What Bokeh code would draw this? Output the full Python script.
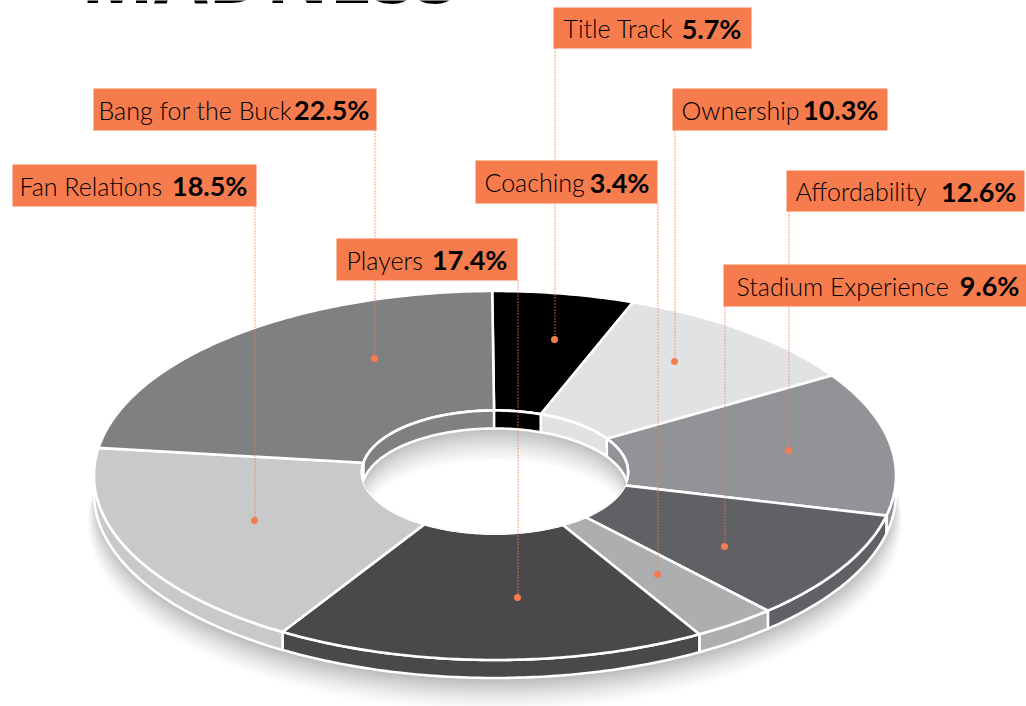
import numpy as np
from bokeh.plotting import figure
from bokeh.embed import file_html
from bokeh.resources import INLINE
from bokeh.core.properties import value

# ---- data
categories = ["Title Track", "Ownership", "Affordability", "Stadium Experience",
              "Coaching", "Players", "Fan Relations", "Bang for the Buck"]
shares = [5.7, 10.3, 12.6, 9.6, 3.4, 17.4, 18.5, 22.5]
colors = ["#000000", "#e1e2e4", "#929396", "#606165",
          "#adaeb0", "#49494b", "#c8c9cb", "#7f8082"]
headline = "MADNESS"

# ---- annotation layout
box_left = [553, 672, 786, 723, 475, 336, 12, 93]
box_right = [751, 887, 1024, 1026, 657, 517, 256, 376]
box_top = [7, 88, 170, 264, 160, 238, 164, 88]
box_bottom = [48, 130, 211, 306, 203, 280, 206, 130]
text_left = [563, 681, 795, 736, 484, 346, 19, 98]
bold_right = [741, 878, 1016, 1019, 649, 507, 247, 369]
dot_x = [554, 674, 788, 724, 657, 517, 254, 374]
dot_y = [339, 361, 450, 546, 574, 597, 520, 358]

# ---- geometry of the projected ring
CX, CY, RX, RY = 494.5, 475, 401, 184.5
IRX, IRY, ICY = 133, 61.5, 471.5
DEPTH, IDEPTH = 18, 18
ROT = -0.4
ORANGE = "#f67c4e"
WHITE_W = 2.6
FONT = "Lato Light"


def arc(rx, ry, cy, a0, a1, n=None):
    n = n or max(2, int(abs(a1 - a0) * 1.5))
    t = np.radians(np.linspace(a0, a1, n))
    return CX + rx * np.sin(t), cy - ry * np.cos(t)


p = figure(width=1026, height=706, x_range=(0, 1026), y_range=(706, 0),
           min_border=0, toolbar_location=None, output_backend="svg",
           outline_line_color=None, background_fill_color="white",
           margin=(0, 0, 0, 0))
p.axis.visible = False
p.grid.visible = False

# drop shadow: stack of ellipses, outer (white) to inner (grey)
steps = 36
for i in range(steps):
    f = i / (steps - 1)               # 0 outer .. 1 inner
    sx, sy = arc(408 - 10 * f, 187 - 4 * f, 526 - 30 * f, 0, 360, 240)
    g = 1 - f ** 1.4
    col = tuple(int(round(c + (255 - c) * g)) for c in (186, 188, 188))
    p.patch(sx, sy, fill_color="#%02x%02x%02x" % col, line_color=None)

edges = np.concatenate([[0], np.cumsum(shares)]) * 3.6 + ROT
edges[-1] = 360 + ROT

# outer side wall
for i, c in enumerate(colors):
    a0, a1 = max(edges[i], 90), min(edges[i + 1], 270)
    if a1 <= a0:
        continue
    x0, y0 = arc(RX, RY, CY, a0, a1)
    x1, y1 = arc(RX, RY, CY + DEPTH, a1, a0)
    p.patch(np.r_[x0, x1], np.r_[y0, y1], fill_color=c,
            line_color="white", line_width=WHITE_W, line_join="round")

# top faces
for i, c in enumerate(colors):
    x0, y0 = arc(RX, RY, CY, edges[i], edges[i + 1])
    x1, y1 = arc(IRX, IRY, ICY, edges[i + 1], edges[i])
    p.patch(np.r_[x0, x1], np.r_[y0, y1], fill_color=c,
            line_color="white", line_width=WHITE_W, line_join="round")

# hole
hx, hy = arc(IRX, IRY, ICY, 0, 360, 240)
p.patch(hx, hy, fill_color="white", line_color="white", line_width=WHITE_W)

# inner wall: the far part, up to where the hole's rim meets its sunken copy
meet = np.degrees(np.arccos(IDEPTH / 2 / IRY))       # lower-arc limit
wall_edges = np.r_[edges[0], edges[1:]]
for i, c in enumerate(colors):
    spans = [(edges[i], edges[i + 1])]
    if edges[i] < 0:                                  # wedge crossing the top
        spans = [(edges[i] + 360, 360), (0, edges[i + 1])]
    for e0, e1 in spans:
        for lo_upper, hi_upper, lo_lower, hi_lower in (
                (0, 180 - meet, 0, meet),
                (180 + meet, 360, 360 - meet, 360)):
            u0, u1 = max(e0, lo_upper), min(e1, hi_upper)
            if u1 <= u0:
                continue
            x0, y0 = arc(IRX, IRY, ICY, u0, u1)
            l0, l1 = max(e0, lo_lower), min(e1, hi_lower)
            if l1 > l0:
                x1, y1 = arc(IRX, IRY, ICY + IDEPTH, l1, l0)
            else:
                x1, y1 = np.array([]), np.array([])
            p.patch(np.r_[x0, x1], np.r_[y0, y1], fill_color=c, line_color=None)

# separators between neighbours on the wall
for a in edges[:-1]:
    cos_a = np.cos(np.radians(a))
    if cos_a > np.cos(np.radians(meet)):
        sx0, sy0 = arc(IRX, IRY, ICY, a, a, 1)
        sx1, sy1 = arc(IRX, IRY, ICY + IDEPTH, a, a, 1)
        p.line(np.r_[sx0, sx1], np.r_[sy0, sy1], line_color="white", line_width=WHITE_W)

# hole floor gradient: hole outline intersected with a sliding copy of itself
bands = 26
xs_band = CX + IRX * np.sin(np.radians(np.linspace(-90, 90, 241)))
for i in range(bands):
    f = i / (bands - 1)
    s = IDEPTH + 32 * f
    u = (xs_band - CX) / IRX
    root = np.sqrt(np.clip(1 - u ** 2, 0, 1))
    top = ICY + s - IRY * root
    bot = ICY + IRY * root
    keep = top < bot
    g = f ** 0.8
    col = tuple(int(round(c + (255 - c) * g)) for c in (186, 188, 188))
    p.patch(np.r_[xs_band[keep], xs_band[keep][::-1]],
            np.r_[top[keep], bot[keep][::-1]],
            fill_color="#%02x%02x%02x" % col, line_color=None)

# white rim lines of the hole
p.line(*arc(IRX, IRY, ICY, -(180 - meet), 180 - meet, 200), line_color="white", line_width=WHITE_W)
p.line(*arc(IRX, IRY, ICY + IDEPTH, -meet, meet, 160), line_color="white", line_width=WHITE_W)

# leaders and dots
for i in range(len(categories)):
    p.line([dot_x[i] + 0.5, dot_x[i] + 0.5], [box_bottom[i], dot_y[i]], line_color=ORANGE,
           line_width=1.4, line_dash="1 2")
p.scatter(dot_x, dot_y, size=7, marker="circle", fill_color=ORANGE, line_color=None)

# label boxes
p.quad(left=box_left, right=box_right, top=box_top, bottom=box_bottom,
       fill_color=ORANGE, line_color=None)
middle = [(a + b) / 2 for a, b in zip(box_top, box_bottom)]
p.text(text_left, middle, text=categories, text_font=value(FONT), text_font_size="25px",
       text_color="#000000", text_baseline="middle", text_align="left")
p.text(bold_right, middle, text=["%.1f%%" % s for s in shares], text_font=value("Lato"),
       text_font_size="27px", text_font_style="bold", text_color="#000000",
       text_baseline="middle", text_align="right")

# cropped headline
p.text([80], [-28], text=[headline], text_font=value("Open Sans"), text_font_size="78px",
       text_font_style="bold", text_color="#000000", text_baseline="alphabetic")

open("out.html", "w").write(file_html(p, INLINE))
